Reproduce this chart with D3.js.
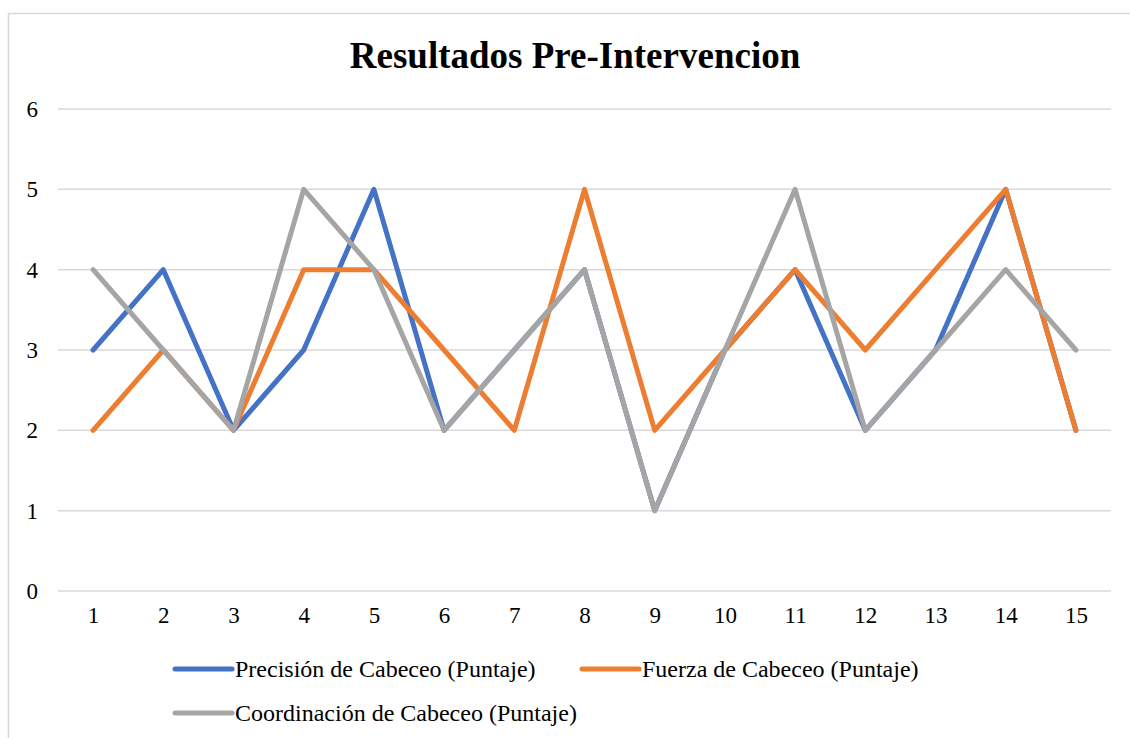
<!DOCTYPE html>
<html>
<head>
<meta charset="utf-8">
<script src="https://cdn.jsdelivr.net/npm/d3@7"></script>
<style>
  body { margin: 0; background: #fff; }
  text { font-family: "Liberation Serif", "Times New Roman", serif; fill: #000; }
</style>
</head>
<body>
<script>
// Data
var categories = ["1","2","3","4","5","6","7","8","9","10","11","12","13","14","15"];
var precision = [3,4,2,3,5,2,3,4,1,3,4,2,3,5,2];
var fuerza = [2,3,2,4,4,3,2,5,2,3,4,3,4,5,2];
var coordinacion = [4,3,2,5,4,2,3,4,1,3,5,2,3,4,3];
var yTicks = [0,1,2,3,4,5,6];
var seriesNames = ["Precisión de Cabeceo (Puntaje)", "Fuerza de Cabeceo (Puntaje)", "Coordinación de Cabeceo (Puntaje)"];
var colors = ["#4472C4", "#ED7D31", "#A5A5A5"];

var svgWidth = 1130;
var svgHeight = 738;

var margin = { top: 109, right: 19, bottom: 147, left: 58 };
var width = svgWidth - margin.left - margin.right;
var height = svgHeight - margin.top - margin.bottom;

var serif = '"Liberation Serif", "Times New Roman", serif';

var svg = d3.select("body").append("svg")
  .attr("width", svgWidth)
  .attr("height", svgHeight);

// chart border
svg.append("rect")
  .attr("x", 8.5).attr("y", 13.5)
  .attr("width", 1140).attr("height", 740)
  .attr("fill", "none")
  .attr("stroke", "#d9d9d9")
  .attr("stroke-width", 1.5);

svg.append("text")
  .attr("x", 575).attr("y", 68)
  .attr("text-anchor", "middle")
  .style("font-family", serif)
  .style("font-size", "37px")
  .style("font-weight", "bold")
  .text("Resultados Pre-Intervencion");

var chartGroup = svg.append("g")
  .attr("transform", `translate(${margin.left}, ${margin.top})`);

var xScale = d3.scalePoint()
  .domain(categories)
  .range([0, width])
  .padding(0.5);

var yScale = d3.scaleLinear()
  .domain([0, 6])
  .range([height, 0]);

// gridlines
chartGroup.selectAll(".grid")
  .data(yTicks)
  .enter().append("line")
  .attr("x1", 0).attr("x2", width)
  .attr("y1", d => yScale(d)).attr("y2", d => yScale(d))
  .attr("stroke", "#d9d9d9")
  .attr("stroke-width", 1.5);

// y axis labels
var leftAxis = d3.axisLeft(yScale).tickValues(yTicks).tickFormat(d3.format("d")).tickSize(0).tickPadding(20);
chartGroup.append("g").call(leftAxis)
  .call(g => g.select(".domain").remove())
  .selectAll("text")
  .style("font-family", serif)
  .style("font-size", "23px");

// x axis labels
var bottomAxis = d3.axisBottom(xScale).tickSize(0).tickPadding(16);
chartGroup.append("g")
  .attr("transform", `translate(0, ${height})`)
  .call(bottomAxis)
  .call(g => g.select(".domain").remove())
  .selectAll("text")
  .style("font-family", serif)
  .style("font-size", "23px");

var line = d3.line()
  .x((d, i) => xScale(categories[i]))
  .y(d => yScale(d));

[precision, fuerza, coordinacion].forEach(function(series, i) {
  chartGroup.append("path")
    .datum(series)
    .attr("d", line)
    .attr("fill", "none")
    .attr("stroke", colors[i])
    .attr("stroke-width", 5)
    .attr("stroke-linejoin", "round")
    .attr("stroke-linecap", "round");
});

// legend
var legendPos = [[175, 669], [582, 669], [175, 713]];
var legend = svg.selectAll(".legend")
  .data(seriesNames)
  .enter().append("g")
  .attr("transform", (d, i) => `translate(${legendPos[i][0]}, ${legendPos[i][1]})`);

legend.append("line")
  .attr("x1", 0).attr("x2", 57)
  .attr("stroke", (d, i) => colors[i])
  .attr("stroke-width", 5)
  .attr("stroke-linecap", "round");

legend.append("text")
  .attr("x", 60).attr("y", 8)
  .style("font-family", serif)
  .style("font-size", "24px")
  .text(d => d);
</script>
</body>
</html>
